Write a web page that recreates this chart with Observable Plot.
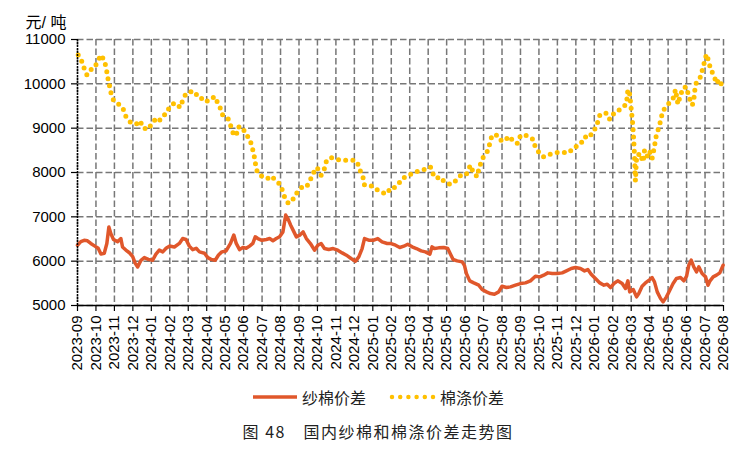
<!DOCTYPE html>
<html>
<head>
<meta charset="utf-8">
<script src="https://cdn.jsdelivr.net/npm/d3@7"></script>
<script src="https://cdn.jsdelivr.net/npm/@observablehq/plot@0.6"></script>
<style>
  html, body { margin: 0; padding: 0; background: #fff; }
  #wrap { width: 756px; height: 450px; position: relative; overflow: hidden; }
  #legend { height: 44px; display: flex; justify-content: center; align-items: center;
            font-family: 'Noto Sans CJK SC', sans-serif; font-size: 16px; color: #222; }
  #legend .item { display: flex; align-items: center; }
  #legend svg { display: block; margin-right: 4px; }
  #caption { text-align: center; font-family: 'Noto Sans CJK SC', sans-serif; font-size: 16px;
             letter-spacing: 1.5px; color: #222; line-height: 24px; }
</style>
</head>
<body>
<div id="wrap">
  <div id="chart"></div>
  <div id="legend"></div>
  <div id="caption"></div>
</div>
<script>
// ---- data ----
const monthLabels = ["2023-09","2023-10","2023-11","2023-12","2024-01","2024-02","2024-03","2024-04","2024-05","2024-06","2024-07","2024-08","2024-09","2024-10","2024-11","2024-12","2025-01","2025-02","2025-03","2025-04","2025-05","2025-06","2025-07","2025-08","2025-09","2025-10","2025-11","2025-12","2026-01","2026-02","2026-03","2026-04","2026-05","2026-06","2026-07","2026-08"];
const yTicks = [5000, 6000, 7000, 8000, 9000, 10000, 11000];
const unitLabel = "元/ 吨";
const seriesNames = ["纱棉价差", "棉涤价差"];
const captionText = "图 48　国内纱棉和棉涤价差走势图";

// [month offset from 2023-09, value]
const yarnCotton = [[0.00,6360],[0.18,6440],[0.36,6470],[0.54,6460],[0.72,6400],[0.94,6340],[1.12,6290],[1.27,6160],[1.45,6180],[1.59,6400],[1.70,6770],[1.81,6620],[1.95,6490],[2.17,6440],[2.35,6510],[2.44,6320],[2.62,6250],[2.81,6190],[2.99,6100],[3.13,5950],[3.26,5870],[3.44,6020],[3.62,6080],[3.84,6040],[4.07,6020],[4.25,6160],[4.43,6250],[4.62,6210],[4.80,6290],[4.98,6340],[5.25,6320],[5.52,6400],[5.70,6510],[5.88,6490],[6.06,6340],[6.24,6260],[6.43,6290],[6.61,6210],[6.88,6180],[7.06,6080],[7.24,6040],[7.46,6020],[7.64,6140],[7.82,6210],[8.05,6230],[8.29,6400],[8.47,6590],[8.60,6400],[8.78,6260],[8.96,6310],[9.14,6290],[9.32,6340],[9.50,6400],[9.63,6550],[9.77,6510],[9.99,6470],[10.23,6490],[10.41,6510],[10.59,6460],[10.77,6510],[10.95,6550],[11.13,6660],[11.28,7040],[11.40,6960],[11.55,6810],[11.68,6700],[11.86,6548],[12.04,6586],[12.22,6661],[12.40,6510],[12.62,6398],[12.84,6247],[13.02,6360],[13.20,6398],[13.38,6285],[13.61,6262],[13.85,6285],[14.10,6247],[14.34,6187],[14.57,6135],[14.82,6060],[15.06,6000],[15.24,6097],[15.42,6285],[15.55,6510],[15.78,6473],[16.05,6473],[16.27,6510],[16.50,6435],[16.78,6398],[16.99,6398],[17.23,6360],[17.46,6308],[17.68,6338],[17.89,6383],[18.13,6323],[18.36,6285],[18.62,6232],[18.85,6210],[19.09,6157],[19.21,6323],[19.34,6285],[19.57,6300],[19.84,6308],[20.06,6285],[20.21,6157],[20.35,6037],[20.57,6007],[20.84,5984],[20.96,5909],[21.07,5721],[21.25,5556],[21.47,5510],[21.74,5458],[21.92,5360],[22.16,5307],[22.37,5270],[22.59,5255],[22.82,5307],[23.00,5435],[23.24,5405],[23.46,5420],[23.73,5458],[24.00,5495],[24.27,5510],[24.54,5556],[24.81,5661],[25.05,5646],[25.26,5684],[25.48,5736],[25.72,5721],[25.99,5721],[26.26,5736],[26.49,5781],[26.75,5834],[26.98,5856],[27.25,5834],[27.47,5781],[27.65,5811],[27.83,5706],[28.06,5608],[28.30,5510],[28.52,5458],[28.70,5480],[28.88,5405],[29.06,5495],[29.27,5556],[29.51,5495],[29.69,5383],[29.82,5556],[29.92,5307],[30.11,5360],[30.29,5195],[30.41,5270],[30.59,5435],[30.77,5510],[31.01,5586],[31.13,5631],[31.26,5533],[31.41,5307],[31.59,5157],[31.73,5082],[31.91,5195],[32.09,5345],[32.27,5495],[32.45,5608],[32.67,5631],[32.85,5556],[33.00,5661],[33.12,5909],[33.25,6022],[33.39,5871],[33.54,5759],[33.66,5871],[33.84,5721],[34.03,5646],[34.16,5458],[34.27,5556],[34.44,5646],[34.62,5684],[34.80,5736],[34.98,5909]];

const cottonPoly = [[0.04,10650],[0.22,10520],[0.36,10350],[0.51,10200],[0.72,10320],[0.90,10350],[1.09,10500],[1.27,10650],[1.45,10530],[1.56,10350],[1.63,10160],[1.72,9985],[1.81,9800],[1.95,9630],[2.17,9560],[2.35,9500],[2.50,9410],[2.64,9240],[2.90,9120],[3.17,9090],[3.40,9165],[3.53,9010],[3.80,8970],[4.04,9105],[4.25,9220],[4.43,9165],[4.62,9270],[4.80,9330],[4.98,9470],[5.25,9570],[5.57,9470],[5.70,9630],[5.88,9780],[6.15,9820],[6.37,9820],[6.52,9690],[6.73,9670],[6.97,9590],[7.20,9670],[7.46,9710],[7.60,9560],[7.75,9440],[7.87,9290],[8.18,9200],[8.33,9015],[8.47,8840],[8.60,8840],[8.72,9030],[8.96,9015],[9.09,8865],[9.32,8770],[9.45,8590],[9.56,8410],[9.63,8220],[9.72,8040],[9.86,7940],[10.10,7900],[10.28,7860],[10.50,7920],[10.71,7830],[10.95,7740],[11.08,7620],[11.22,7450],[11.40,7320],[11.62,7340],[11.76,7490],[11.94,7563],[12.17,7676],[12.41,7676],[12.62,7842],[12.84,8037],[12.98,8112],[13.20,7940],[13.38,8090],[13.49,8263],[13.74,8338],[14.03,8300],[14.24,8278],[14.57,8278],[14.93,8278],[15.15,8240],[15.29,8067],[15.47,7887],[15.55,7714],[15.78,7699],[16.02,7691],[16.27,7601],[16.56,7541],[16.78,7526],[16.96,7661],[17.17,7661],[17.35,7714],[17.59,7864],[17.89,7917],[18.18,7992],[18.49,8037],[18.76,8067],[19.12,8127],[19.27,7962],[19.45,7864],[19.63,7902],[19.88,7789],[20.17,7736],[20.39,7766],[20.57,7864],[20.84,7962],[21.07,7962],[21.29,8165],[21.43,8015],[21.65,7902],[21.74,8067],[21.87,8240],[22.01,8368],[22.23,8488],[22.34,8654],[22.46,8842],[22.73,8842],[22.92,8729],[23.13,8706],[23.37,8819],[23.60,8714],[23.82,8654],[23.96,8804],[24.18,8864],[24.45,8804],[24.69,8744],[24.81,8564],[25.05,8428],[25.26,8353],[25.48,8391],[25.72,8428],[25.99,8451],[26.31,8451],[26.62,8443],[26.89,8564],[27.25,8631],[27.47,8804],[27.76,8789],[27.88,8917],[28.06,8992],[28.19,9143],[28.30,9293],[28.52,9346],[28.70,9331],[28.84,9195],[29.06,9331],[29.24,9368],[29.42,9443],[29.74,9541],[29.82,9872],[29.90,9820],[29.96,9600],[30.02,9350],[30.08,9100],[30.12,8850],[30.16,8550],[30.19,8250],[30.21,7950],[30.23,7810],[30.26,8100],[30.30,8390],[30.40,8400],[30.50,8428],[30.58,8300],[30.65,8240],[30.72,8500],[30.80,8400],[30.92,8350],[31.01,8466],[31.13,8316],[31.23,8519],[31.37,8864],[31.53,9045],[31.62,9240],[31.77,9421],[31.95,9496],[32.09,9594],[32.27,9669],[32.40,9872],[32.53,9541],[32.67,9744],[32.82,9917],[33.00,9932],[33.12,9706],[33.31,9519],[33.39,9632],[33.48,9992],[33.72,10120],[33.85,10308],[33.97,10496],[34.08,10669],[34.21,10496],[34.30,10323],[34.48,10195],[34.62,10007],[34.75,10098],[34.88,9992],[34.98,9970]];

const colors = { yarn: "#E0572B", poly: "#FFC000", grid: "#777777" };

// ---- chart ----
const monthTicks = d3.range(monthLabels.length);
const chart = Plot.plot({
  width: 756,
  height: 375,
  marginLeft: 77,
  marginRight: 33,
  marginTop: 39,
  marginBottom: 70,
  style: { fontFamily: "'Liberation Sans', 'Noto Sans CJK SC', sans-serif", fontSize: "15px", color: "#000", background: "#fff", overflow: "visible" },
  x: { type: "linear", domain: [0, monthLabels.length - 1] },
  y: { domain: [yTicks[0], yTicks[yTicks.length - 1]] },
  marks: [
    Plot.gridY(yTicks, { stroke: colors.grid, strokeOpacity: 1, strokeWidth: 1.5, strokeDasharray: "6.5,3" }),
    Plot.gridX(monthTicks, { stroke: colors.grid, strokeOpacity: 1, strokeWidth: 1.5, strokeDasharray: "6.5,3" }),
    Plot.line(cottonPoly, { x: d => d[0], y: d => d[1], stroke: colors.poly, strokeWidth: 5, strokeDasharray: "0,7.2", strokeLinecap: "round" }),
    Plot.line(yarnCotton, { x: d => d[0], y: d => d[1], stroke: colors.yarn, strokeWidth: 3.5, strokeLinejoin: "round" }),
    Plot.ruleY([yTicks[0]], { stroke: "#000", strokeWidth: 1.5 }),
    Plot.ruleX([0], { stroke: "#000", strokeWidth: 1.5, strokeDasharray: "2,1" }),
    Plot.axisY(yTicks, { tickSize: 6, tickPadding: 6, tickFormat: d => String(d), label: null, stroke: "#000", strokeWidth: 1.2 }),
    Plot.axisX(monthTicks, { tickSize: 6, tickPadding: 4, tickRotate: -90, tickFormat: i => monthLabels[i], label: null, stroke: "#000", strokeWidth: 1.2 }),
    Plot.text([unitLabel], { frameAnchor: "top-left", dx: -52, dy: -23, textAnchor: "start", fontSize: 16, fill: "#000" })
  ]
});
document.getElementById("chart").appendChild(chart);

// ---- legend ----
const legend = d3.select("#legend");
const it1 = legend.append("div").attr("class", "item").style("margin-right", "22px");
it1.append("svg").attr("width", 46).attr("height", 10)
  .append("line").attr("x1", 1).attr("x2", 45).attr("y1", 5).attr("y2", 5)
  .attr("stroke", colors.yarn).attr("stroke-width", 3.5);
it1.append("span").text(seriesNames[0]);
const it2 = legend.append("div").attr("class", "item");
it2.append("svg").attr("width", 48).attr("height", 10)
  .append("line").attr("x1", 4).attr("x2", 46).attr("y1", 5).attr("y2", 5)
  .attr("stroke", colors.poly).attr("stroke-width", 4.5).attr("stroke-linecap", "round").attr("stroke-dasharray", "0,8.2");
it2.append("span").text(seriesNames[1]);

// ---- caption ----
document.getElementById("caption").textContent = captionText;
</script>
</body>
</html>
